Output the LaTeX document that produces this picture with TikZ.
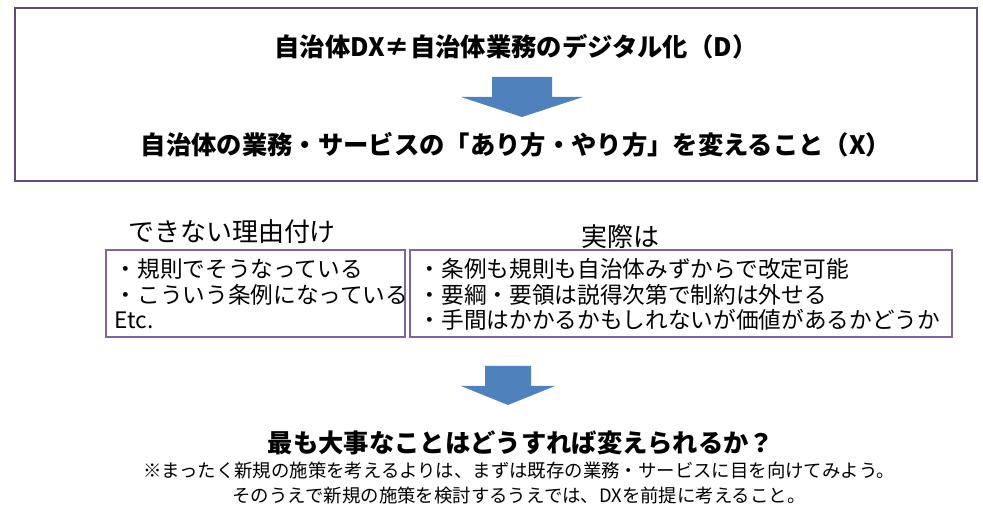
\documentclass[tikz,border=0pt]{standalone}
\usepackage{fontspec}
\setmainfont{Noto Sans CJK JP}
\usetikzlibrary{positioning}
\definecolor{framepurple}{RGB}{96,74,123}
\definecolor{arrowblue}{RGB}{79,129,189}
\definecolor{boxpurple}{RGB}{128,100,162}

\begin{document}
\begin{tikzpicture}[x=0.75pt,y=-0.75pt,
  bigtext/.style={font=\fontsize{19}{21}\selectfont\bfseries, anchor=center},
  headtext/.style={font=\fontsize{19.5}{22}\selectfont, anchor=center},
  itemtext/.style={font=\fontsize{17}{19}\selectfont, anchor=west},
  notetext/.style={font=\fontsize{13.8}{16}\selectfont, anchor=center},
  blockarrow/.style={fill=arrowblue, draw=none}
]
\useasboundingbox (0,0) rectangle (983,513);

% upper frame
\draw[framepurple, line width=1.5pt] (15,8) rectangle (977,181);
\node[bigtext] (dx) at (516,47) {自治体DX≠自治体業務のデジタル化（D）};
\node[bigtext] (x) at (516,145) {自治体の業務・サービスの「あり方・やり方」を変えること（X）};
\fill[blockarrow] (492,77) -- (552,77) -- (552,97) -- (583,97) -- (522,117)
  -- (461,97) -- (492,97) -- cycle;

% two boxes
\draw[boxpurple, line width=0.8pt] (106,250) rectangle (405,337);
\draw[boxpurple, line width=0.8pt] (410,250) rectangle (952,337);
\node[headtext] (reason) at (232,232) {できない理由付け};
\node[headtext] (fact) at (620,237) {実際は};
\node[itemtext] (l1) at (110,269) {・規則でそうなっている};
\node[itemtext] (l2) at (110,295) {・こういう条例になっている};
\node[itemtext] (l3) at (110,320) {Etc.};
\node[itemtext] (r1) at (414,269) {・条例も規則も自治体みずからで改定可能};
\node[itemtext] (r2) at (414,295) {・要綱・要領は説得次第で制約は外せる};
\node[itemtext] (r3) at (414,320) {・手間はかかるかもしれないが価値があるかどうか};

% lower arrow
\fill[blockarrow] (485,366) -- (531,366) -- (531,386) -- (555,386) -- (508,405)
  -- (461,386) -- (485,386) -- cycle;

\node[bigtext] (q) at (521,443) {最も大事なことはどうすれば変えられるか？};
\node[notetext] (n1) at (519,471) {※まったく新規の施策を考えるよりは、まずは既存の業務・サービスに目を向けてみよう。};
\node[notetext] (n2) at (519,496) {そのうえで新規の施策を検討するうえでは、DXを前提に考えること。};
\end{tikzpicture}
\end{document}
